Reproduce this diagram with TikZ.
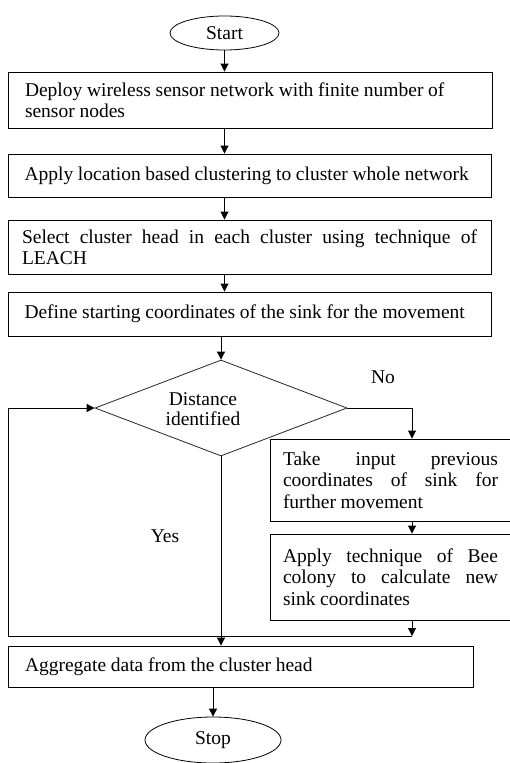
\documentclass[tikz,border=0pt]{standalone}
\usepackage{fontspec}
\setmainfont{Liberation Serif}
\usetikzlibrary{shapes.geometric,arrows.meta,calc}

% word spacing and no hyphenation inside the boxes
\newcommand\boxtext{\spaceskip=0.24em plus 0.6em minus 0.05em\relax\hyphenpenalty=10000\relax}

\begin{document}
\begin{tikzpicture}[x=1pt,y=-1pt,
  every node/.style={font=\fontsize{19.5}{21.5}\selectfont},
  conn/.style={draw=black, line width=0.9pt},
  arr/.style={conn, -{Triangle[length=8pt,width=8pt]}},
  procbox/.style={draw=black, line width=0.9pt, rectangle, inner sep=0pt, align=left},
  term/.style={draw=black, line width=0.8pt, ellipse, inner sep=0pt},
  decision/.style={draw=black!85, line width=0.8pt, diamond, inner sep=0pt},
]
% page frame
\fill[white] (0,0) rectangle (509,763);
\useasboundingbox (0,0) rectangle (509,763);

% terminals
\node[term, minimum width=109pt, minimum height=34pt] (start) at (224.5,33) {Start};
\node[term, minimum width=136pt, minimum height=46pt] (stop) at (213,740) {Stop};

% main column of process steps
\node[procbox, minimum width=484pt, minimum height=56pt, text width=450pt] (deploy) at (250,100)
  {\boxtext Deploy wireless sensor network with finite number of\\sensor nodes};
\node[procbox, minimum width=483pt, minimum height=43pt, text width=450pt] (cluster) at (249.5,175.5)
  {\boxtext Apply location based clustering to cluster whole network};
\node[procbox, minimum width=483pt, minimum height=54pt, text width=455pt] (head) at (249.5,247)
  {\boxtext\makebox[455pt][s]{Select cluster head in each cluster using technique of}\\LEACH};
\node[procbox, minimum width=483pt, minimum height=44pt, text width=450pt] (define) at (249.5,314)
  {\boxtext Define starting coordinates of the sink for the movement};

% decision and its caption
\node[decision, minimum width=252pt, minimum height=96pt] (dec) at (221,408) {};
\node[align=center, font=\fontsize{19.5}{20}\selectfont] (dectext) at (203,409) {Distance\\identified};

% right-hand branch
\node[procbox, minimum width=241pt, minimum height=82pt, text width=215pt] (prev) at (390.5,480)
  {\boxtext\makebox[215pt][s]{Take input previous}\\\makebox[215pt][s]{coordinates of sink for}\\further movement};
\node[procbox, minimum width=241pt, minimum height=86pt, text width=215pt] (bee) at (390.5,577)
  {\boxtext\makebox[215pt][s]{Apply technique of Bee}\\\makebox[215pt][s]{colony to calculate new}\\sink coordinates};

% final step
\node[procbox, minimum width=465pt, minimum height=41pt, text width=431pt] (aggr) at (240.5,666.5)
  {\boxtext Aggregate data from the cluster head};

% branch labels
\node (no) at (383,377) {No};
\node (yes) at (165,536) {Yes};

% routing points
\coordinate (rcol) at (412,0);
\coordinate (jr) at (412,636);
\coordinate (jl) at (8,636);

% connectors
\draw[arr] (start.south) -- (start.south |- deploy.north);
\draw[arr] (start.south |- deploy.south) -- (start.south |- cluster.north);
\draw[arr] (start.south |- cluster.south) -- (start.south |- head.north);
\draw[arr] (start.south |- head.south) -- (start.south |- define.north);
\draw[arr] (dec.north |- define.south) -- (dec.north);
\draw[arr] (dec.east) -| (rcol |- prev.north);
\draw[arr] (rcol |- prev.south) -- (rcol |- bee.north);
\draw[arr] (rcol |- bee.south) -- (jr);
\draw[arr] (jr) -- (jl) |- (dec.west);
\draw[arr] (dec.south) -- (dec.south |- aggr.north);
\draw[arr] (stop.north |- aggr.south) -- (stop.north);
\end{tikzpicture}
\end{document}
